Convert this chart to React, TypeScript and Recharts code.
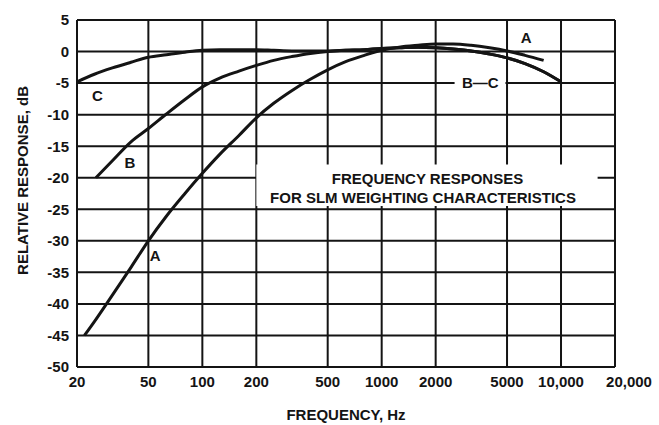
import {
  CartesianGrid,
  Line,
  LineChart,
  ReferenceArea,
  ReferenceDot,
  XAxis,
  YAxis,
} from "recharts";

const FREQ_TICKS = [20, 50, 100, 200, 500, 1000, 2000, 5000, 10000, 20000];
const FREQ_LABELS = ["20", "50", "100", "200", "500", "1000", "2000", "5000", "10,000", "20,000"];
const DB_TICKS = [5, 0, -5, -10, -15, -20, -25, -30, -35, -40, -45, -50];

// A, B and C weighting curves (Hz, dB)
const CURVE_A = [
  { f: 22, db: -45 }, { f: 25, db: -42.8 }, { f: 31.5, db: -38.6 }, { f: 40, db: -34.2 },
  { f: 50, db: -30 }, { f: 63, db: -26.1 }, { f: 80, db: -22.5 }, { f: 100, db: -19.3 },
  { f: 125, db: -16.3 }, { f: 160, db: -13.3 }, { f: 200, db: -10.5 }, { f: 250, db: -8.2 },
  { f: 315, db: -6.2 }, { f: 400, db: -4.4 }, { f: 500, db: -2.9 }, { f: 630, db: -1.6 },
  { f: 800, db: -0.6 }, { f: 1000, db: 0.2 }, { f: 1250, db: 0.7 }, { f: 1600, db: 1.0 },
  { f: 2000, db: 1.2 }, { f: 2500, db: 1.2 }, { f: 3150, db: 1.0 }, { f: 4000, db: 0.6 },
  { f: 5000, db: 0.1 }, { f: 6300, db: -0.6 }, { f: 8000, db: -1.4 },
];

const CURVE_B = [
  { f: 25.5, db: -20 }, { f: 31.5, db: -17.3 }, { f: 40, db: -14.3 }, { f: 50, db: -12.2 },
  { f: 63, db: -9.9 }, { f: 80, db: -7.6 }, { f: 100, db: -5.6 }, { f: 125, db: -4.2 },
  { f: 160, db: -3.1 }, { f: 200, db: -2.2 }, { f: 250, db: -1.4 }, { f: 315, db: -0.8 },
  { f: 400, db: -0.3 }, { f: 500, db: 0 }, { f: 630, db: 0.2 }, { f: 800, db: 0.3 },
  { f: 1000, db: 0.5 }, { f: 1250, db: 0.6 }, { f: 1600, db: 0.7 }, { f: 2000, db: 0.6 },
  { f: 2500, db: 0.4 }, { f: 3150, db: 0.1 }, { f: 4000, db: -0.4 }, { f: 5000, db: -1.0 },
  { f: 6300, db: -1.9 }, { f: 8000, db: -3.2 }, { f: 10000, db: -4.8 },
];

const CURVE_C = [
  { f: 20, db: -4.8 }, { f: 25, db: -3.6 }, { f: 31.5, db: -2.6 }, { f: 40, db: -1.7 },
  { f: 50, db: -0.9 }, { f: 63, db: -0.5 }, { f: 80, db: -0.1 }, { f: 100, db: 0.2 },
  { f: 125, db: 0.3 }, { f: 160, db: 0.3 }, { f: 200, db: 0.3 }, { f: 250, db: 0.2 },
  { f: 315, db: 0.1 }, { f: 400, db: 0.1 }, { f: 500, db: 0.1 }, { f: 630, db: 0.2 },
  { f: 800, db: 0.3 }, { f: 1000, db: 0.5 }, { f: 1250, db: 0.6 }, { f: 1600, db: 0.7 },
  { f: 2000, db: 0.6 }, { f: 2500, db: 0.4 }, { f: 3150, db: 0.1 }, { f: 4000, db: -0.4 },
  { f: 5000, db: -1.0 }, { f: 6300, db: -1.9 }, { f: 8000, db: -3.2 }, { f: 10000, db: -4.8 },
];

const INK = "#141414";
const FONT = "'Liberation Sans', Arial, sans-serif";
const textStyle = { fill: INK, fontSize: 15, fontWeight: 700, fontFamily: FONT };

function FreqTick(props: any) {
  const { x, y, payload } = props;
  const idx = FREQ_TICKS.indexOf(payload.value);
  const label = FREQ_LABELS[idx] ?? String(payload.value);
  const shift = idx === FREQ_TICKS.length - 1 ? 14 : 0;
  return (
    <text x={x + shift} y={y + 12} textAnchor="middle" {...textStyle}>
      {label}
    </text>
  );
}

function YTitle(props: any) {
  const vb = props.viewBox;
  const x = vb.x + 10;
  const y = vb.y + vb.height / 2 - 13;
  return (
    <text x={x} y={y} transform={`rotate(-90 ${x} ${y})`} textAnchor="middle" dominantBaseline="central" {...textStyle}>
      RELATIVE RESPONSE, dB
    </text>
  );
}

function curveLabel(value: string) {
  return { value, position: "center" as const, ...textStyle };
}

export default function App() {
  return (
    <div style={{ position: "absolute", left: 0, top: 0, background: "#fff" }}>
      <LineChart width={659} height={425} margin={{ top: 20, right: 44, bottom: 5, left: 12 }}>
        <CartesianGrid stroke={INK} strokeWidth={2} />
        <XAxis
          dataKey="f"
          type="number"
          scale="log"
          domain={[20, 20000]}
          ticks={FREQ_TICKS}
          allowDataOverflow
          axisLine={false}
          tickLine={false}
          height={53}
          tick={<FreqTick />}
          label={{ value: "FREQUENCY, Hz", position: "insideBottom", offset: 0, ...textStyle }}
        />
        <YAxis
          type="number"
          domain={[-50, 5]}
          ticks={DB_TICKS}
          allowDataOverflow
          axisLine={false}
          tickLine={false}
          width={65}
          tick={textStyle}
          tickMargin={2}
          label={{ content: <YTitle /> }}
        />
        {/* white panels behind the caption and the B—C tag */}
        <ReferenceArea x1={200} x2={16000} y1={-24.5} y2={-17.9} fill="#fff" fillOpacity={1} stroke="none" />
        <ReferenceArea x1={2550} x2={4900} y1={-6.4} y2={-3.7} fill="#fff" fillOpacity={1} stroke="none" />
        <Line data={CURVE_C} dataKey="db" type="monotone" stroke={INK} strokeWidth={3} dot={false} isAnimationActive={false} />
        <Line data={CURVE_B} dataKey="db" type="monotone" stroke={INK} strokeWidth={3} dot={false} isAnimationActive={false} />
        <Line data={CURVE_A} dataKey="db" type="monotone" stroke={INK} strokeWidth={3} dot={false} isAnimationActive={false} />
        <ReferenceDot x={1800} y={-20.2} r={0} fill="none" stroke="none" label={curveLabel("FREQUENCY RESPONSES")} />
        <ReferenceDot x={1700} y={-23.1} r={0} fill="none" stroke="none" label={curveLabel("FOR SLM WEIGHTING CHARACTERISTICS")} />
        <ReferenceDot x={6400} y={2.2} r={0} fill="none" stroke="none" label={curveLabel("A")} />
        <ReferenceDot x={3550} y={-5} r={0} fill="none" stroke="none" label={curveLabel("B—C")} />
        <ReferenceDot x={26} y={-7} r={0} fill="none" stroke="none" label={curveLabel("C")} />
        <ReferenceDot x={39.5} y={-17.6} r={0} fill="none" stroke="none" label={curveLabel("B")} />
        <ReferenceDot x={54.5} y={-32.3} r={0} fill="none" stroke="none" label={curveLabel("A")} />
      </LineChart>
    </div>
  );
}
